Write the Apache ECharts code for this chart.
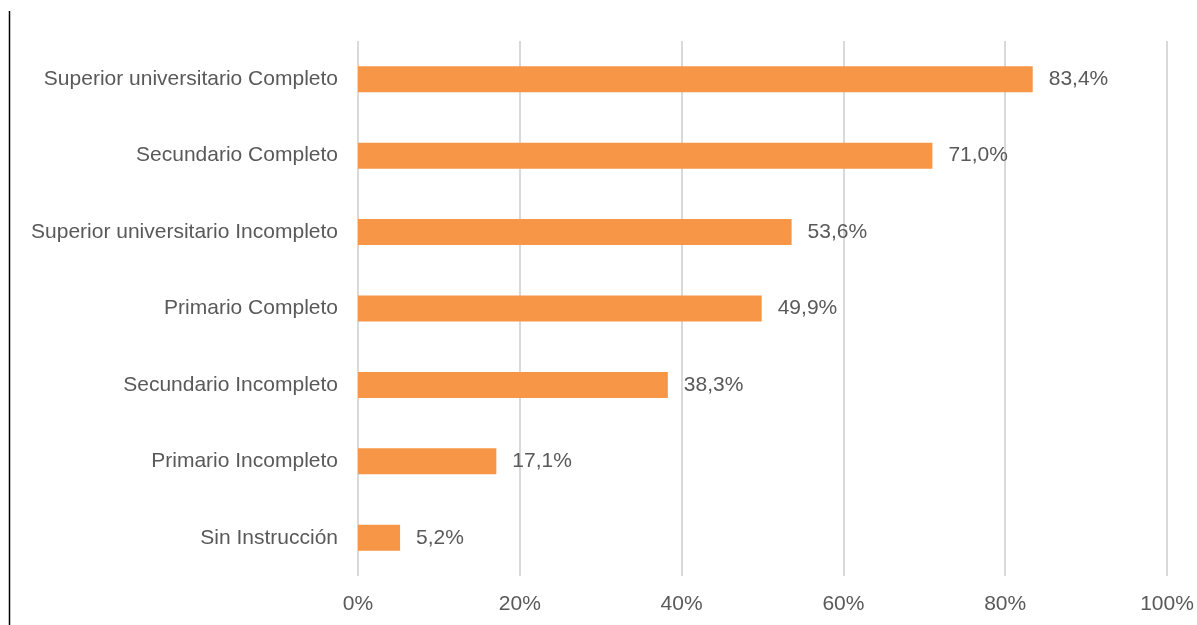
<!DOCTYPE html>
<html>
<head>
<meta charset="utf-8">
<style>
  html, body { margin: 0; padding: 0; background: #fff; }
  #chart { width: 1197px; height: 625px; }
</style>
<script src="https://cdn.jsdelivr.net/npm/echarts@6/dist/echarts.min.js"></script>
</head>
<body>
<div id="chart"></div>
<script>
var categories = [
    'Sin Instrucción',
    'Primario Incompleto',
    'Secundario Incompleto',
    'Primario Completo',
    'Superior universitario Incompleto',
    'Secundario Completo',
    'Superior universitario Completo'
];
var values = [5.2, 17.1, 38.3, 49.9, 53.6, 71.0, 83.4];

var chartDom = document.getElementById('chart');
var myChart = echarts.init(chartDom);
var textColor = '#595959';
var font = '"Liberation Sans", Arial, sans-serif';

var option = {
    animation: false,
    grid: {
        left: 358,
        right: 30,
        top: 41,
        bottom: 49,
        containLabel: false
    },
    xAxis: {
        type: 'value',
        min: 0,
        max: 100,
        interval: 20,
        axisLine: { show: false },
        axisTick: { show: false },
        splitLine: { lineStyle: { color: '#d9d9d9', width: 2 } },
        axisLabel: {
            color: textColor,
            fontSize: 21,
            fontFamily: font,
            margin: 18,
            formatter: '{value}%'
        }
    },
    yAxis: {
        type: 'category',
        data: categories,
        axisLine: { show: false },
        axisTick: { show: false },
        axisLabel: {
            color: textColor,
            fontSize: 21,
            fontFamily: font,
            margin: 20
        }
    },
    series: [{
        type: 'bar',
        data: values,
        barWidth: 26,
        itemStyle: { color: '#f79646' },
        label: {
            show: true,
            position: 'right',
            distance: 16,
            color: textColor,
            fontSize: 21,
            fontFamily: font,
            formatter: function (p) {
                return p.value.toFixed(1).replace('.', ',') + '%';
            }
        }
    }],
    graphic: [{
        type: 'line',
        shape: { x1: 9.5, y1: 11, x2: 9.5, y2: 625 },
        style: { stroke: '#000', lineWidth: 1.5 }
    }]
};
option && myChart.setOption(option);
</script>
</body>
</html>
